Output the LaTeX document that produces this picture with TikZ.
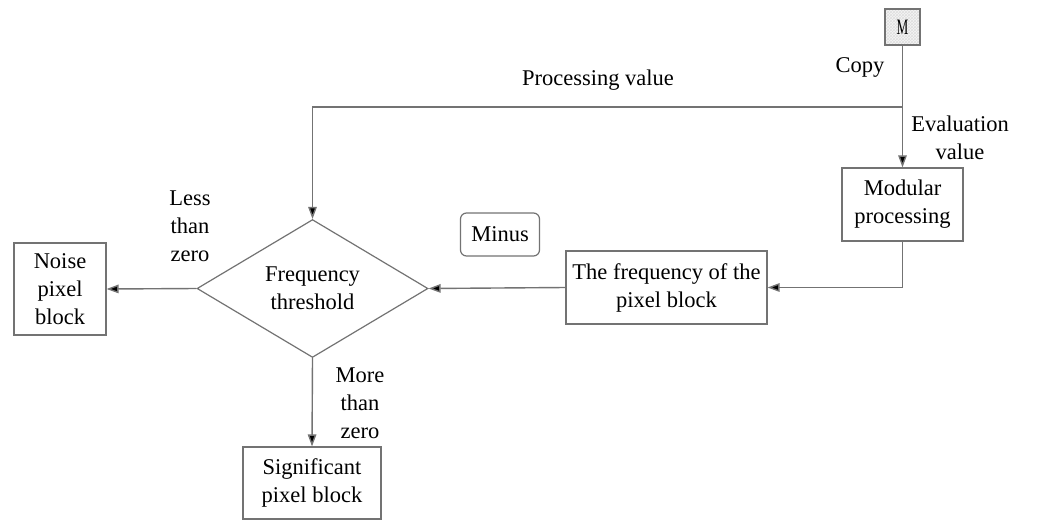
\documentclass[tikz,border=0pt]{standalone}
\usepackage{fontspec}
\setmainfont{Liberation Serif}
\usetikzlibrary{arrows.meta,shapes.geometric,patterns}
\begin{document}
\begin{tikzpicture}[x=1pt,y=-1pt,
  every node/.style={font=\fontsize{22.5}{28}\selectfont, align=center, inner sep=0pt},
  box/.style={draw=gray!90!black, line width=1.2pt, fill=white},
  link/.style={draw=gray!90!black, line width=1.4pt},
  arrow/.style={link, -{Triangle[length=12pt,width=8.5pt,fill=black]}},
  lbl/.style={text=black}]
  \useasboundingbox (0,0) rectangle (1040,522);

  % source and operation blocks
  \node[box, minimum width=35pt, minimum height=36pt,
        preaction={fill=gray!8},
        pattern=crosshatch, pattern color=gray!25] (m) at (902.5,27)
        {\fontsize{22}{24}\selectfont\scalebox{0.6}[1]{M}};
  \node[box, minimum width=121pt, minimum height=73pt] (mod) at (902.5,204.5) {Modular\\processing};
  \node[box, minimum width=201pt, minimum height=73pt] (freq) at (666.5,287.5) {The frequency of the\\pixel block};
  \node[box, rounded corners=6pt, minimum width=79pt, minimum height=43pt] (minus) at (500,234.5) {Minus};
  \node[box, diamond, minimum width=231pt, minimum height=137pt] (thr) at (312.5,288.5) {Frequency\\threshold};
  \node[box, minimum width=92pt, minimum height=92pt] (noise) at (60,289) {Noise\\pixel\\block};
  \node[box, minimum width=138pt, minimum height=72pt] (sig) at (312,483) {Significant\\pixel block};

  % branching point below the source
  \coordinate (split) at (902.5,107);

  % connectors
  \draw[link] (m.south) -- (split);
  \draw[arrow] (split) -- (mod.north);
  \draw[arrow] (split) -| (thr.north);
  \draw[arrow] (mod.south) |- (freq.east);
  \draw[arrow] (freq.west) -- (thr.east);
  \draw[arrow] (thr.west) -- (noise.east);
  \draw[arrow] (thr.south) -- (sig.north);

  % connector labels
  \node[lbl] (lcopy) at (860,67) {Copy};
  \node[lbl] (lproc) at (598,80) {Processing value};
  \node[lbl] (leval) at (960,138) {Evaluation\\value};
  \node[lbl] (lless) at (190,226) {Less\\than\\zero};
  \node[lbl] (lmore) at (360,403) {More\\than\\zero};
\end{tikzpicture}
\end{document}
